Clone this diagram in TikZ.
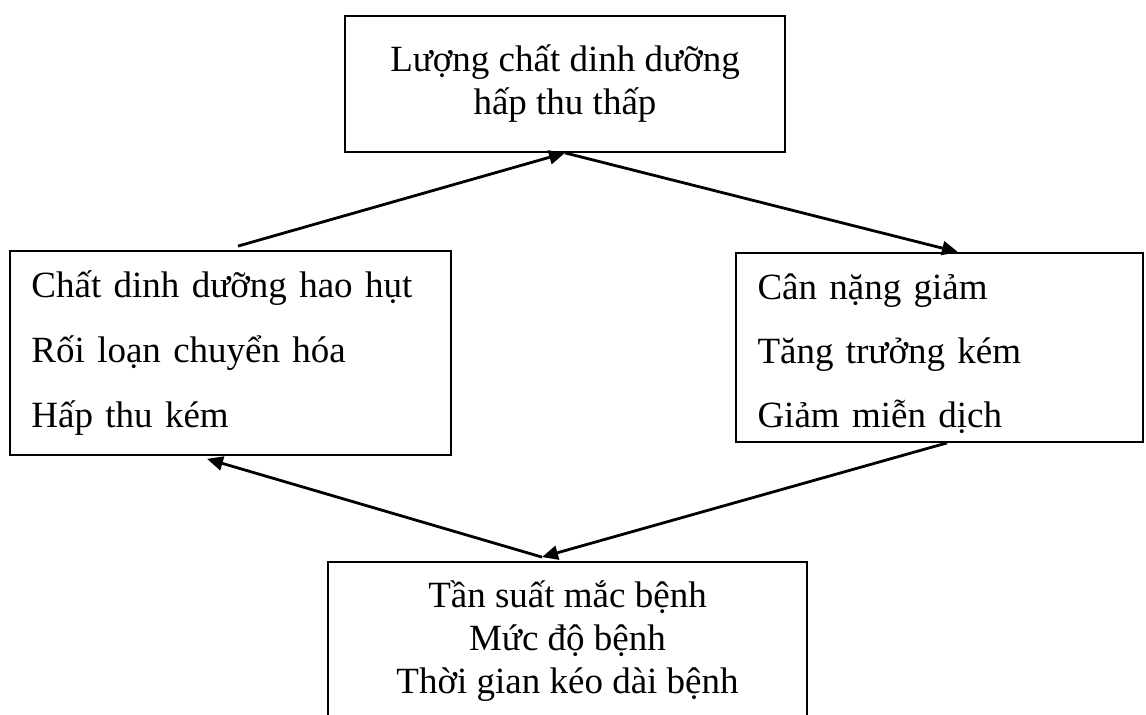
\documentclass[tikz,border=0pt]{standalone}
\usepackage{fontspec}
\setmainfont{Liberation Serif}
\usepackage{tikz}
\usetikzlibrary{arrows.meta}

\begin{document}
\begin{tikzpicture}[x=0.5pt, y=-0.5pt,
        box/.style={draw, line width=0.9pt, inner sep=0pt,
            font=\fontsize{18.5}{21.5}\selectfont},
        midbox/.style={box, align=center},
        listbox/.style={box, align=left, inner xsep=10.75pt},
        link/.style={line width=1.4pt, -{Triangle[length=8pt, width=7pt]}}]
        \useasboundingbox (0,0) rectangle (1146,715);

        \node[midbox, minimum width=220pt, minimum height=68pt] (intake) at (565,84)
            {Lượng chất dinh dưỡng\\hấp thu thấp};
        \node[listbox, text width=199pt, minimum height=102pt] (loss) at (230.5,353)
            {Chất dinh dưỡng hao hụt\\[11pt]Rối loạn chuyển hóa\\[11pt]Hấp thu kém};
        \node[listbox, text width=182pt, minimum height=94.5pt] (weight) at (939.5,347.5)
            {\rule{0pt}{19pt}Cân nặng giảm\\[10.5pt]Tăng trưởng kém\\[10.5pt]Giảm miễn dịch};
        \node[midbox, minimum width=239.5pt, minimum height=79pt] (disease) at (567.5,641)
            {Tần suất mắc bệnh\\Mức độ bệnh\\Thời gian kéo dài bệnh};

        \draw[link] ([xshift=3.75pt, yshift=2pt]loss.north) -- (intake.south);
        \draw[link] (intake.south) -- ([xshift=9.25pt]weight.north);
        \draw[link] ([xshift=3.75pt]weight.south) -- ([xshift=-12.75pt, yshift=2pt]disease.north);
        \draw[link] ([xshift=-12.75pt, yshift=2pt]disease.north) -- ([xshift=-11.75pt, yshift=-1.5pt]loss.south);
    \end{tikzpicture}
\end{document}
